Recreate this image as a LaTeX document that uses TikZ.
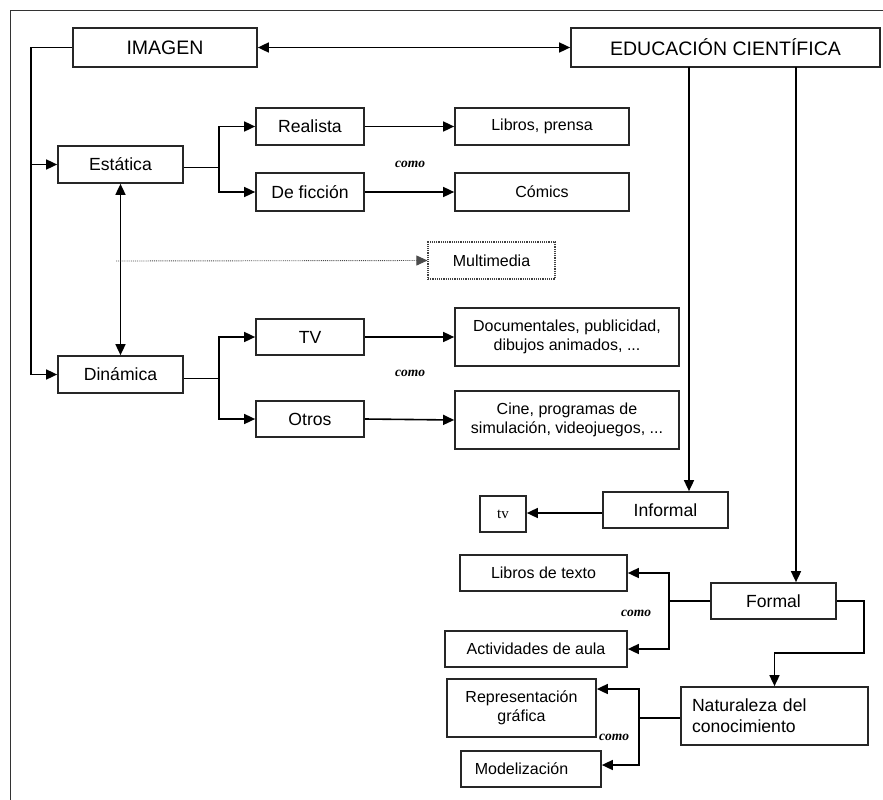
\documentclass[tikz,border=0pt]{standalone}
\usepackage{fontspec}
\setmainfont{Liberation Sans}
\newfontfamily\timesf{Liberation Serif}
\usetikzlibrary{arrows.meta}
\tikzset{
  x=1pt, y=-1pt,
  bx/.style={draw=black!85, line width=1.7pt, inner sep=0pt, align=center, text=black},
  big/.style={bx, font=\fontsize{19.5}{22}\selectfont},
  mid/.style={bx, font=\fontsize{17.6}{21}\selectfont},
  sml/.style={bx, font=\fontsize{16}{19.5}\selectfont},
  ln/.style={draw=black, line width=1.6pt},
  arr/.style={ln, -{Triangle[length=11pt,width=10pt]}},
  darr/.style={ln, {Triangle[length=11pt,width=10pt]}-{Triangle[length=11pt,width=10pt]}},
  como/.style={font=\timesf\bfseries\itshape\fontsize{13.5}{15}\selectfont, inner sep=0pt},
  framel/.style={draw=black!80, line width=1.6pt}
}
\begin{document}
\begin{tikzpicture}
\useasboundingbox (0,0) rectangle (883,800);
\draw[framel] (10.5,800) -- (10.5,10.5) -- (883,10.5);

% top boxes
\node[big, minimum width=184, minimum height=39] (imagen) at (165,47.5) {IMAGEN};
\node[big, minimum width=309, minimum height=39] (edu) at (725.5,47.5) {EDUCACIÓN CIENTÍFICA};

% imagen branch
\node[mid, minimum width=125, minimum height=37] (estatica) at (120.5,164.5) {Estática};
\node[mid, minimum width=125, minimum height=37] (dinamica) at (120.5,374.5) {Dinámica};
\node[mid, minimum width=108, minimum height=37] (realista) at (310,126.5) {Realista};
\node[mid, minimum width=108, minimum height=38] (ficcion) at (310,192) {De ficción};
\node[sml, minimum width=174, minimum height=37] (libros) at (542,126.5) {Libros, prensa};
\node[sml, minimum width=174, minimum height=38] (comics) at (542,192) {Cómics};
\node[sml, draw=black!75, line width=1.2pt, densely dotted, minimum width=127, minimum height=37] (multi) at (491.5,260.5) {Multimedia};
\node[mid, minimum width=108, minimum height=36] (tv) at (310,337) {TV};
\node[mid, minimum width=108, minimum height=36] (otros) at (310,419) {Otros};
\node[sml, minimum width=224, minimum height=58] (docu) at (567,337) {Documentales, publicidad,\\dibujos animados, ...};
\node[sml, minimum width=224, minimum height=58] (cine) at (567,420) {Cine, programas de\\simulación, videojuegos, ...};

% educacion branch
\node[mid, minimum width=125, minimum height=36] (informal) at (665.5,510) {Informal};
\node[bx, font=\timesf\fontsize{15}{18}\selectfont, minimum width=46, minimum height=36] (tvs) at (503,514) {tv};
\node[mid, minimum width=125, minimum height=36] (formal) at (773.5,601) {Formal};
\node[sml, minimum width=167, minimum height=36] (ltexto) at (543.5,573) {Libros de texto};
\node[sml, minimum width=182, minimum height=36] (activ) at (536,649) {Actividades de aula};
\node[mid, minimum width=187, minimum height=58, align=left, text width=165] (natur) at (774.5,716) {Naturaleza del\\conocimiento};
\node[sml, minimum width=149, minimum height=58] (repre) at (521.5,708) {Representación\\gráfica};
\node[sml, minimum width=140, minimum height=36] (model) at (531,769) {\hspace*{-19pt}Modelización};

% como labels
\node[como] (c1) at (410,164) {como};
\node[como] (c2) at (410,373) {como};
\node[como] (c3) at (636,613) {como};
\node[como] (c4) at (614,737) {como};

% coordinates
\coordinate (L) at (31,0);
\coordinate (b1) at (219,0);
\coordinate (b3) at (669,0);
\coordinate (b4) at (639,0);
\coordinate (e1) at (689,67);
\coordinate (e2) at (796,67);
\coordinate (f1) at (864,653);
\coordinate (m0) at (116,261);

% connectors
\draw[darr] (imagen.east) -- (edu.west);
\draw[arr] (imagen.west) -| (L |- dinamica.west) -- (dinamica.west);
\draw[arr] (L |- estatica.west) -- (estatica.west);
\draw[darr] (estatica.south) -- (dinamica.north);
\draw[arr, line width=0.9pt, draw=black!70, densely dotted] (m0) -- (multi.west);

\draw[ln] ([yshift=-3pt]estatica.east) -- ([yshift=-3pt]b1 |- estatica.east);
\draw[arr] ([yshift=-3pt]b1 |- estatica.east) |- (realista.west);
\draw[arr] ([yshift=-3pt]b1 |- estatica.east) |- (ficcion.west);
\draw[arr] (realista.east) -- (libros.west);
\draw[arr] (ficcion.east) -- (comics.west);

\draw[ln] ([yshift=-4pt]dinamica.east) -- ([yshift=-4pt]b1 |- dinamica.east);
\draw[arr] ([yshift=-4pt]b1 |- dinamica.east) |- (tv.west);
\draw[arr] ([yshift=-4pt]b1 |- dinamica.east) |- (otros.west);
\draw[arr] (tv.east) -- (docu.west);
\draw[arr] (otros.east) -- (cine.west);

\draw[arr] (e1) -- (e1 |- informal.north);
\draw[arr] (e2) -- (e2 |- formal.north);
\draw[arr] ([yshift=-3pt]informal.west) -- ([yshift=-3pt]informal.west -| tvs.east);

\draw[ln] (formal.west) -- (b3 |- formal.west);
\draw[arr] (b3 |- formal.west) |- (ltexto.east);
\draw[arr] (b3 |- formal.west) |- (activ.east);
\draw[arr] (formal.east) -| (f1) -| (natur.north);

\draw[ln] ([yshift=-2pt]natur.west) -- ([yshift=-2pt]b4 |- natur.west);
\draw[arr] ([yshift=-2pt]b4 |- natur.west) |- ([yshift=19pt]repre.east);
\draw[arr] ([yshift=-2pt]b4 |- natur.west) |- ([yshift=4pt]model.east);
\end{tikzpicture}
\end{document}
